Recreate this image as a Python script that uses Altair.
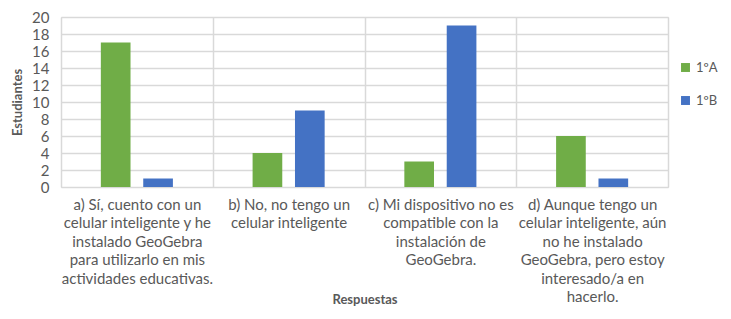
import altair as alt
import pandas as pd

categories = [
    "a)  Sí, cuento con un|celular inteligente y he|instalado GeoGebra|para utilizarlo en mis|actividades educativas.",
    "b)  No, no tengo un|celular inteligente",
    "c)   Mi dispositivo no es|compatible con la|instalación de|GeoGebra.",
    "d)  Aunque tengo un|celular inteligente, aún|no he instalado|GeoGebra, pero estoy|interesado/a en|hacerlo.",
]
groups = ["1ºA", "1ºB"]
values_A = [17, 4, 3, 6]
values_B = [1, 9, 19, 1]
colors = ["#70AD47", "#4472C4"]

rows = []
for c, a, b in zip(categories, values_A, values_B):
    rows.append({"Respuesta": c, "Grupo": groups[0], "Estudiantes": a})
    rows.append({"Respuesta": c, "Grupo": groups[1], "Estudiantes": b})
df = pd.DataFrame(rows)

FONT = "Lato"
GRAY = "#595959"

chart = alt.Chart(df).mark_bar().encode(
    x=alt.X("Respuesta:N", sort=categories,
            scale=alt.Scale(paddingInner=0, paddingOuter=0),
            axis=alt.Axis(title="Respuestas", labelAngle=0,
                          labelExpr="split(datum.label, '|')",
                          labelFont=FONT, labelFontSize=15, labelColor=GRAY,
                          labelLineHeight=18.5, labelPadding=10, labelBaseline="top",
                          ticks=False, domain=False, grid=True, tickBand="extent",
                          gridColor="#d9d9d9", gridWidth=1.5,
                          titleFont=FONT, titleFontSize=13, titleFontWeight="bold",
                          titleColor=GRAY, titleY=112, titleBaseline="middle")),
    xOffset=alt.XOffset("Grupo:N", sort=groups,
                        scale=alt.Scale(paddingInner=0.3, paddingOuter=0.94)),
    y=alt.Y("Estudiantes:Q", scale=alt.Scale(domain=[0, 20]),
            axis=alt.Axis(values=list(range(0, 21, 2)), title="Estudiantes",
                          labelFont=FONT, labelFontSize=15, labelColor=GRAY,
                          labelPadding=12, ticks=False, domain=False,
                          gridColor="#d9d9d9", gridWidth=1.5,
                          titleFont=FONT, titleFontSize=13, titleFontWeight="bold",
                          titleColor=GRAY, titlePadding=7)),
    color=alt.Color("Grupo:N", sort=groups,
                    scale=alt.Scale(domain=groups, range=colors),
                    legend=alt.Legend(title=None, orient="none", legendX=618, legendY=44,
                                      symbolType="square", symbolSize=80,
                                      symbolStrokeWidth=0,
                                      labelFont=FONT, labelFontSize=13, labelColor=GRAY,
                                      rowPadding=19, labelOffset=4)),
).properties(
    width=607, height=170,
    autosize=alt.AutoSizeParams(type="none"),
    padding={"left": 53, "top": 9, "right": 55, "bottom": 120},
).configure_view(
    fill="#f1f1f1", stroke="#d9d9d9", strokeWidth=1.5
).configure(background="white")

chart.save("out.html", embed_options={"renderer": "svg", "actions": False})
